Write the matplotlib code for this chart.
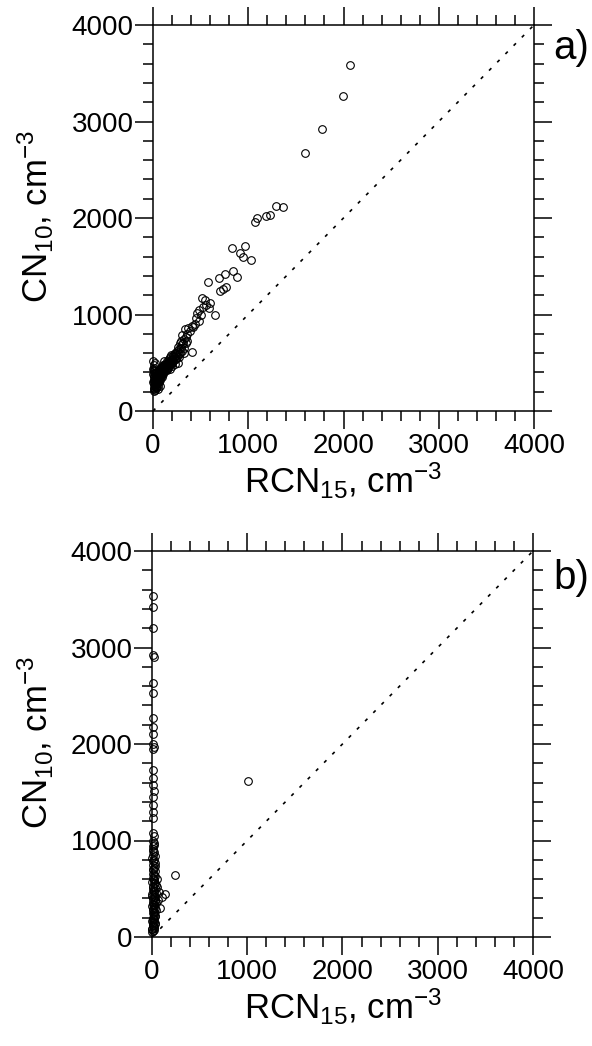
import matplotlib
matplotlib.use('Agg')
import matplotlib.pyplot as plt
from matplotlib.ticker import MultipleLocator

plt.rcParams['font.family'] = ['Liberation Sans', 'DejaVu Sans']
plt.rcParams['mathtext.default'] = 'regular'
plt.rcParams['mathtext.fontset'] = 'custom'
plt.rcParams['mathtext.rm'] = 'Liberation Sans'

# panel a) CN10 vs RCN15
rcn15_a = [2068, 1995, 1774, 1596, 1370, 1290, 1230, 1185, 1090, 1070,
           1032, 962, 948, 915, 828, 880, 845, 768, 757, 735,
           705, 697, 575, 652, 512, 560, 525, 485, 600, 588,
           545, 465, 505, 440, 405, 372, 335, 352, 408, 302,
           385, 420, 455, 480,
           322, 285, 300, 262, 252, 232, 212, 272, 242, 202,
           182, 162, 152, 132, 122, 102, 92, 82, 72, 62,
           52, 42, 32, 22, 12, 6, 16, 26, 36, 46,
           56, 66, 76, 86, 96, 112, 126, 142, 172, 192,
           222, 242, 272, 292, 312, 342, 362, 202, 182, 152,
           262, 232, 302, 322, 282, 345, 330, 250, 210, 170,
           140, 110, 90, 70, 50, 30, 120, 100, 80, 60, 40,
           5, 10, 20, 8, 15, 30, 3, 12, 25, 40,
           2, 18, 35, 45, 50, 60, 70, 6, 22, 10,
           28, 4, 14, 8,
           20, 35, 50, 65, 80, 95, 110, 130, 150, 175,
           200, 225, 15, 30, 45, 60, 75, 90, 105, 125,
           145, 165, 190, 215, 240, 265, 290, 10, 25, 55,
           85, 115, 160, 195, 230, 270,
           12, 24, 38, 52, 68, 84, 100, 118, 136, 156,
           178, 198, 6, 18, 33, 48, 64, 78, 94, 108]
cn10_a = [3585, 3264, 2922, 2674, 2110, 2125, 2030, 2020, 2005, 1960,
          1561, 1710, 1595, 1640, 1692, 1390, 1455, 1290, 1416, 1260,
          1248, 1375, 1338, 995, 1170, 1100, 1080, 1050, 1115, 1065,
          1150, 1020, 995, 905, 885, 860, 845, 800, 615, 785,
          825, 870, 960, 930,
          742, 705, 690, 662, 622, 602, 582, 562, 542, 522,
          562, 502, 482, 462, 432, 422, 402, 382, 362, 342,
          322, 302, 282, 262, 242, 232, 282, 302, 332, 352,
          372, 392, 412, 432, 452, 472, 492, 522, 542, 582,
          562, 602, 642, 722, 702, 762, 722, 462, 432, 422,
          502, 482, 622, 602, 602, 700, 650, 560, 520, 480,
          440, 380, 350, 320, 300, 250, 520, 480, 450, 420, 400,
          520, 480, 500, 450, 420, 400, 380, 350, 330, 360,
          300, 260, 250, 280, 230, 300, 260, 210, 220, 270,
          240, 440, 390, 320,
          330, 290, 340, 350, 370, 400, 420, 445, 470, 500,
          530, 560, 360, 380, 400, 390, 430, 460, 440, 470,
          500, 520, 530, 570, 580, 610, 650, 300, 270, 260,
          350, 410, 460, 500, 540, 590,
          310, 350, 320, 370, 330, 380, 395, 410, 430, 450,
          480, 495, 410, 300, 280, 310, 340, 365, 380, 440]

# panel b) CN10 vs RCN15
rcn15_b = [12, 10, 14, 9, 16, 11, 13, 10, 15, 12,
           9, 17, 13, 11, 14, 10, 16, 12, 9, 15,
           11, 13, 18,
           10, 20, 8, 15, 25, 12, 5, 18, 30, 10,
           22, 6, 28, 14, 35, 9, 20, 4, 26, 40,
           12, 32, 7, 18, 45, 24, 3, 36, 15, 28,
           8, 42, 19, 5, 30, 13, 38, 22, 6, 16,
           33, 10, 25, 4, 18, 30, 8, 14, 22, 5,
           12, 3,
           20, 6, 28, 14, 34, 8, 24, 16, 30, 10,
           22, 4, 18, 36, 12, 26, 7, 20, 32, 15,
           9, 27, 17, 5, 23, 11,
           1005, 238, 77, 102, 136, 84, 66, 55, 48]
cn10_b = [3534, 3423, 3205, 2922, 2905, 2629, 2532, 2266, 2179, 2104,
          2000, 1972, 1945, 1731, 1645, 1575, 1516, 1454, 1368, 1298,
          1230, 1075, 1050,
          1000, 975, 940, 910, 880, 850, 820, 800, 770, 745,
          720, 700, 680, 655, 630, 610, 590, 570, 555, 540,
          520, 505, 490, 470, 455, 440, 425, 410, 395, 380,
          365, 350, 335, 320, 305, 290, 275, 260, 245, 230,
          215, 200, 185, 170, 155, 140, 125, 110, 95, 80,
          65, 50,
          955, 890, 835, 785, 735, 690, 645, 600, 560, 515,
          480, 450, 415, 370, 340, 310, 280, 250, 220, 190,
          160, 130, 105, 85, 70, 120,
          1617, 642, 469, 418, 446, 301, 383, 520, 600]

one_to_one = [0, 4000]

W, H = 592, 1046
fig = plt.figure(figsize=(W / 100, H / 100), dpi=100)
ax_a = fig.add_axes([153 / W, 1 - 411 / H, 381 / W, 386 / H])
ax_b = fig.add_axes([152 / W, 1 - 937 / H, 381 / W, 386 / H])


def style_axes(ax):
    ax.set_xlim(0, 4000)
    ax.set_ylim(0, 4000)
    ax.xaxis.set_major_locator(MultipleLocator(1000))
    ax.xaxis.set_minor_locator(MultipleLocator(200))
    ax.yaxis.set_major_locator(MultipleLocator(1000))
    ax.yaxis.set_minor_locator(MultipleLocator(200))
    for sp in ax.spines.values():
        sp.set_linewidth(1.1)
    ax.tick_params(which='both', direction='out', top=True, right=True,
                   labeltop=False, labelright=False, width=1.1,
                   colors='black', labelsize=20)
    ax.tick_params(which='major', length=13)
    ax.tick_params(which='minor', length=7.5)
    ax.tick_params(axis='x', which='major', pad=3)
    ax.tick_params(axis='y', which='major', pad=1)
    ax.plot(one_to_one, one_to_one, color='black', lw=1.2,
            linestyle=(0, (2, 5)))


style_axes(ax_a)
style_axes(ax_b)

ax_a.plot(rcn15_a, cn10_a, 'o', mfc='none', mec='black', ms=5.5, mew=0.8,
          clip_on=False)
ax_b.plot(rcn15_b, cn10_b, 'o', mfc='none', mec='black', ms=5.5, mew=0.8,
          clip_on=False)

ylab = r'CN$_{10}$, cm$^{-3}$'
xlab = r'RCN$_{15}$, cm$^{-3}$'
fig.text(36 / W, 1 - 216 / H, ylab, rotation=90, ha='center', va='center',
         fontsize=25)
fig.text(36 / W, 1 - 742 / H, ylab, rotation=90, ha='center', va='center',
         fontsize=25)
fig.text(343 / W, 1 - 481 / H, xlab, ha='center', va='center', fontsize=25)
fig.text(343 / W, 1 - 1007 / H, xlab, ha='center', va='center', fontsize=25)

fig.text(553 / W, 1 - 48 / H, 'a)', ha='left', va='center', fontsize=29)
fig.text(553 / W, 1 - 578 / H, 'b)', ha='left', va='center', fontsize=29)

fig.savefig('out.png', dpi=100)
plt.close(fig)
